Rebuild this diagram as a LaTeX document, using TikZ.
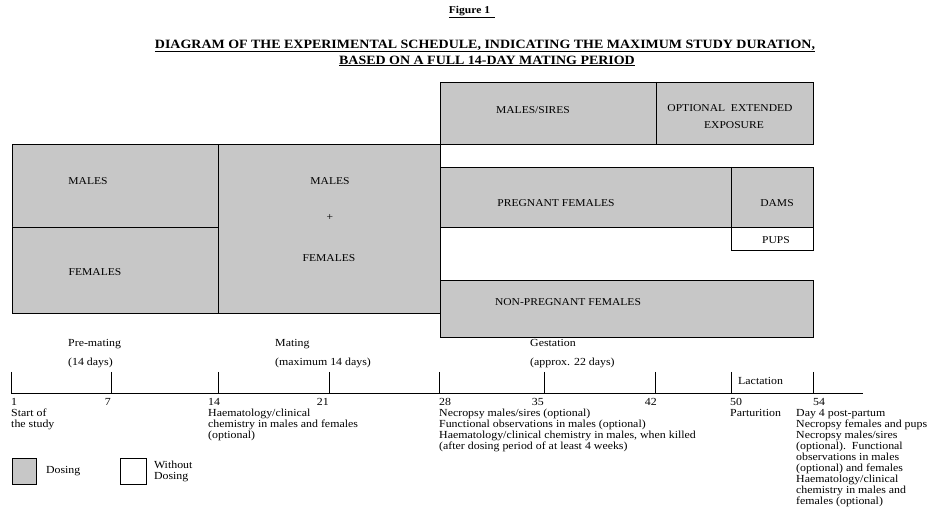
\documentclass[tikz,border=0pt]{standalone}
\usepackage{fontspec}
\setmainfont{Liberation Serif}[FakeStretch=1.1]
\usetikzlibrary{positioning}

\begin{document}
\begin{tikzpicture}[
    x=1pt, y=-1pt,
    dose/.style={draw, line width=0.8pt, fill=black!22},
    nodose/.style={draw, line width=0.8pt, fill=white},
    axis/.style={line width=0.9pt},
    lbl/.style={font=\fontsize{10.5}{12}\selectfont, inner sep=0pt},
    txt/.style={font=\fontsize{10.8}{11}\selectfont, inner sep=0pt},
    note/.style={txt, align=left, anchor=north west},
    day/.style={txt, anchor=base east},
    ttl/.style={font=\bfseries\fontsize{12.7}{14}\selectfont, inner sep=0pt},
]
\useasboundingbox (0,0) rectangle (927,510);

% Heading
\node[ttl, font=\bfseries\fontsize{10.5}{12}\selectfont] (fig) at (472,12) {\underline{Figure\ 1\hspace{5pt}}};
\node[ttl] (head1) at (485,46) {\underline{DIAGRAM OF THE EXPERIMENTAL SCHEDULE, INDICATING THE MAXIMUM STUDY DURATION,}};
\node[ttl] (head2) at (487,61) {\underline{BASED ON A FULL 14-DAY MATING PERIOD}};

% Pre-mating and mating
\draw[dose] (12,144) rectangle (218,313);
\draw[dose] (12,227) -- (218,227);
\draw[dose] (218,144) rectangle (440,313);
\node[lbl] (premm) at (88,181) {MALES};
\node[lbl] (premf) at (95,272) {FEMALES};
\node[lbl] (matm) at (330,181) {MALES};
\node[lbl] (matp) at (330,218) {+};
\node[lbl] (matf) at (329,258) {FEMALES};

% After mating
\draw[dose] (440,82) rectangle (813,144);
\draw[dose] (656,82) -- (656,144);
\draw[dose] (440,167) rectangle (813,227);
\draw[dose] (731,167) -- (731,227);
\draw[nodose] (731,227) rectangle (813,250);
\draw[dose] (440,280) rectangle (813,337);
\node[lbl] (sires) at (533,110) {MALES/SIRES};
\node[lbl, align=center, font=\fontsize{10.5}{17}\selectfont] (ext) at (730,117) {OPTIONAL\ \ EXTENDED\\\hspace{8pt}EXPOSURE};
\node[lbl] (preg) at (556,203) {PREGNANT FEMALES};
\node[lbl] (dams) at (777,203) {DAMS};
\node[lbl] (pups) at (776,240) {PUPS};
\node[lbl] (nonpreg) at (568,302) {NON-PREGNANT FEMALES};

% Periods
\node[txt, anchor=base west] (prem) at (68,346.5) {Pre-mating};
\node[txt, anchor=base west] (premd) at (68,365.5) {(14 days)};
\node[txt, anchor=base west] (mat) at (275,346.5) {Mating};
\node[txt, anchor=base west] (matd) at (275,365.5) {(maximum 14 days)};
\node[txt, anchor=base west] (gest) at (530,346.5) {Gestation};
\node[txt, anchor=base west] (gestd) at (530,365.5) {(approx. 22 days)};
\node[txt, anchor=base west] (lact) at (738,385) {Lactation};

% Time axis
\draw[axis] (11,393) -- (863,393);
\foreach \t in {11,111,218,329,439,544,655,731,813}
    \draw[axis] (\t,372) -- (\t,393);
\foreach \t/\d in {111/7,329/21,544/35,657/42}
    \node[day] (d\d) at (\t,405.5) {\d};

% Events
\node[note] (n1) at (11,398) {1\\Start of\\the study};
\node[note] (n14) at (208,398) {14\\Haematology/clinical\\chemistry in males and females\\(optional)};
\node[note] (n28) at (439,398) {28\\Necropsy males/sires (optional)\\Functional observations in males (optional)\\Haematology/clinical chemistry in males, when killed\\(after dosing period of at least 4 weeks)};
\node[note] (n50) at (730,398) {50\\Parturition};
\node[note] (n54) at (796,398) {\hspace{17pt}54\\Day 4 post-partum\\Necropsy females and pups\\Necropsy males/sires\\(optional).\ \ Functional\\observations in males\\(optional) and females\\Haematology/clinical\\chemistry in males and\\females (optional)};

% Key
\node[dose, minimum width=24pt, minimum height=26pt, anchor=north west] (keyd) at (12,458) {};
\node[txt, right=9pt of keyd] (keydt) {Dosing};
\node[nodose, minimum width=26pt, minimum height=26pt, anchor=north west] (keyw) at (120,458) {};
\node[txt, align=left, right=7pt of keyw] (keywt) {Without\\Dosing};
\end{tikzpicture}
\end{document}
